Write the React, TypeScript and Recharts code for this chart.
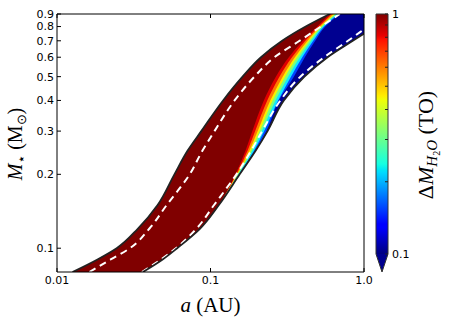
import React from "react"
import { ComposedChart, Area, Line, XAxis, YAxis, ReferenceArea } from "recharts"

// stellar mass grid (M_sun); every curve below is read in AU at these masses
const MASS = [0.08, 0.09, 0.1, 0.12, 0.15, 0.2, 0.25, 0.3, 0.4, 0.5, 0.6, 0.7, 0.8, 0.9]

// black edges of the shaded zone
const HZ_INNER = [0.01262, 0.01835, 0.02447, 0.03357, 0.04524, 0.0582, 0.071, 0.0871, 0.1208, 0.1618, 0.2133, 0.2929, 0.4167, 0.5989]
const HZ_OUTER = [0.03629, 0.04878, 0.06063, 0.0853, 0.1134, 0.1549, 0.1972, 0.2353, 0.3005, 0.4093, 0.5794, 0.8455, 1.176, 1.563]

// white dashed curves
const DASH_INNER = [0.01628, 0.02237, 0.02987, 0.0399, 0.05186, 0.0732, 0.0887, 0.1062, 0.1435, 0.1934, 0.2611, 0.3803, 0.5235, 0.6958]
const DASH_OUTER = [0.03575, 0.04754, 0.05953, 0.0809, 0.1055, 0.1475, 0.1841, 0.2171, 0.2852, 0.3848, 0.5507, 0.7866, 1.0585, 1.378]

// where each colour of the water-loss map starts (null = not reached, zone stays dark red)
const EDGE_RED = [null, null, null, null, null, 0.1453, 0.1692, 0.1874, 0.2227, 0.2666, 0.3238, 0.3996, 0.4966, 0.5989]
const EDGE_ORANGE = [null, null, null, null, null, 0.1472, 0.1745, 0.1955, 0.2343, 0.2813, 0.3398, 0.4148, 0.5086, 0.617]
const EDGE_YELLOW = [null, null, null, null, null, 0.1489, 0.1794, 0.2031, 0.2452, 0.2954, 0.3548, 0.429, 0.5197, 0.6339]
const EDGE_GREEN = [null, null, null, null, null, 0.1503, 0.1832, 0.2091, 0.2541, 0.3067, 0.3669, 0.4403, 0.5284, 0.6475]
const EDGE_CYAN = [null, null, null, null, null, 0.1518, 0.1878, 0.2163, 0.2647, 0.3202, 0.3813, 0.4535, 0.5387, 0.6632]
const EDGE_BLUE = [null, null, null, null, null, 0.1533, 0.1924, 0.2238, 0.2758, 0.3343, 0.3962, 0.4671, 0.5491, 0.6792]
const EDGE_NAVY = [null, null, null, null, null, 0.1549, 0.1972, 0.2315, 0.2788, 0.3491, 0.4117, 0.4812, 0.5598, 0.6958]

const X_TICKS = [0.01, 0.1, 1]
const Y_TICKS = [0.1, 0.2, 0.3, 0.4, 0.5, 0.6, 0.7, 0.8, 0.9]
const CB_TICKS = [0.1, 0.2, 0.3, 0.4, 0.5, 0.6, 0.7, 0.8, 0.9, 1]
const CB_LABELLED = [0.1, 1]

const LAYERS = [
  { key: "red", color: "#e00000", edge: EDGE_RED },
  { key: "orange", color: "#ff7a00", edge: EDGE_ORANGE },
  { key: "yellow", color: "#f8f000", edge: EDGE_YELLOW },
  { key: "green", color: "#7cff7a", edge: EDGE_GREEN },
  { key: "cyan", color: "#12e6ff", edge: EDGE_CYAN },
  { key: "blue", color: "#0046ff", edge: EDGE_BLUE },
  { key: "navy", color: "#000090", edge: EDGE_NAVY },
]

const JET = [
  [0, "#000080"], [0.11, "#0000ff"], [0.125, "#0000ff"], [0.34, "#00dbff"], [0.35, "#00e5f7"],
  [0.375, "#14ffe2"], [0.5, "#7bff7b"], [0.64, "#eeff08"], [0.66, "#ffec00"], [0.89, "#ff1300"],
  [0.91, "#e80000"], [1, "#800000"],
] as const

const rows = MASS.map((m, i) => {
  const row: Record<string, any> = {
    m,
    zone: [HZ_INNER[i], HZ_OUTER[i]],
    inner: HZ_INNER[i],
    outer: HZ_OUTER[i],
    dashIn: DASH_INNER[i],
    dashOut: DASH_OUTER[i],
  }
  LAYERS.forEach((l) => {
    row[l.key] = [l.edge[i] ?? HZ_OUTER[i], HZ_OUTER[i]]
  })
  return row
})

const TICK = { fontSize: 11, fill: "#000", fontFamily: "DejaVu Sans" }
const SERIF = "Liberation Serif"

const fmtX = (v: number) => (v === 1 ? "1.0" : String(v))
const blank = () => ""

function XLabel({ viewBox }: any) {
  const cx = viewBox.x + viewBox.width / 2
  return (
    <text x={cx} y={viewBox.y + 40} textAnchor="middle" fontFamily={SERIF} fontSize={21} fill="#000">
      <tspan fontStyle="italic">a</tspan>
      <tspan> (AU)</tspan>
    </text>
  )
}

function YLabel({ viewBox }: any) {
  const x = viewBox.x + viewBox.width - 35
  const cy = viewBox.y + viewBox.height / 2 + 1
  return (
    <text x={x} y={cy} transform={`rotate(-90 ${x} ${cy})`} textAnchor="middle" fontFamily={SERIF} fontSize={20} fill="#000">
      <tspan fontStyle="italic">M</tspan>
      <tspan dy={4} fontSize={14} fontFamily="DejaVu Sans">⋆</tspan>
      <tspan dy={-4}> (M</tspan>
      <tspan dy={4} fontSize={13}>⊙</tspan>
      <tspan dy={-4}>)</tspan>
    </text>
  )
}

function CbLabel({ viewBox }: any) {
  const x = viewBox.x + 45
  const cy = viewBox.y + viewBox.height / 2 + 11
  return (
    <text x={x} y={cy} transform={`rotate(-90 ${x} ${cy})`} textAnchor="middle" fontFamily={SERIF} fontSize={22} fill="#000">
      <tspan>Δ</tspan>
      <tspan fontStyle="italic">M</tspan>
      <tspan dy={4} fontSize={15} fontStyle="italic">H</tspan>
      <tspan dy={3} fontSize={10}>2</tspan>
      <tspan dy={-3} fontSize={15} fontStyle="italic">O</tspan>
      <tspan dy={-4}> (TO)</tspan>
    </text>
  )
}

function ColorbarShape({ x, y, width, height }: any) {
  const tip = width * 1.5
  const bottom = y + height
  return (
    <g>
      <rect x={x} y={y} width={width} height={height} fill="url(#jet)" />
      <polygon points={`${x},${bottom} ${x + width},${bottom} ${x + width / 2},${bottom + tip}`} fill="#000090" />
      <path
        d={`M${x},${y} H${x + width} V${bottom} L${x + width / 2},${bottom + tip} L${x},${bottom} Z`}
        fill="none"
        stroke="#333"
        strokeWidth={1}
      />
    </g>
  )
}

const layer: React.CSSProperties = { position: "absolute", left: 0, top: 0 }

export default function App() {
  return (
    <div style={{ position: "absolute", left: 0, top: 0, width: 450, height: 326, background: "#fff" }}>
      <div style={layer}>
        <ComposedChart
          layout="vertical"
          width={450}
          height={326}
          data={rows}
          margin={{ top: 13, right: 85, bottom: 24, left: 17 }}
        >
          <XAxis
            type="number"
            scale="log"
            domain={[0.01, 1]}
            allowDataOverflow
            ticks={X_TICKS}
            interval={0}
            tickFormatter={fmtX}
            height={30}
            tickSize={-4}
            tickMargin={8}
            tick={TICK}
            axisLine={{ stroke: "#000" }}
            tickLine={{ stroke: "#000" }}
            label={{ content: XLabel }}
          />
          <XAxis
            xAxisId="top"
            orientation="top"
            type="number"
            scale="log"
            domain={[0.01, 1]}
            allowDataOverflow
            ticks={X_TICKS}
            interval={0}
            tickFormatter={blank}
            height={1}
            tickSize={-4}
            axisLine={{ stroke: "#000" }}
            tickLine={{ stroke: "#000" }}
          />
          <YAxis
            type="number"
            dataKey="m"
            scale="log"
            reversed
            domain={[0.08, 0.9]}
            allowDataOverflow
            ticks={Y_TICKS}
            interval={0}
            width={40}
            tickSize={-4}
            tickMargin={7}
            tick={TICK}
            axisLine={{ stroke: "#000" }}
            tickLine={{ stroke: "#000" }}
            label={{ content: YLabel }}
          />
          <YAxis
            yAxisId="right"
            orientation="right"
            type="number"
            scale="log"
            reversed
            domain={[0.08, 0.9]}
            allowDataOverflow
            ticks={Y_TICKS}
            interval={0}
            tickFormatter={blank}
            width={1}
            tickSize={-4}
            axisLine={{ stroke: "#000" }}
            tickLine={{ stroke: "#000" }}
          />
          <Area dataKey="zone" type="monotone" fill="#800000" fillOpacity={1} stroke="none" isAnimationActive={false} />
          {LAYERS.map((l) => (
            <Area
              key={l.key}
              dataKey={l.key}
              type="monotone"
              fill={l.color}
              fillOpacity={1}
              stroke="none"
              isAnimationActive={false}
            />
          ))}
          <Line dataKey="dashIn" type="monotone" stroke="#fff" strokeWidth={2} strokeDasharray="7 5" dot={false} isAnimationActive={false} />
          <Line dataKey="dashOut" type="monotone" stroke="#fff" strokeWidth={2} strokeDasharray="7 5" dot={false} isAnimationActive={false} />
          <Line dataKey="inner" type="monotone" stroke="#222" strokeWidth={1.8} dot={false} isAnimationActive={false} />
          <Line dataKey="outer" type="monotone" stroke="#222" strokeWidth={1.8} dot={false} isAnimationActive={false} />
        </ComposedChart>
      </div>
      <div style={layer}>
        <ComposedChart
          width={450}
          height={326}
          data={[{ x: 0 }, { x: 1 }]}
          margin={{ top: 14, right: 22, bottom: 72, left: 376 }}
        >
          <defs>
            <linearGradient id="jet" x1="0" y1="1" x2="0" y2="0">
              {JET.map(([o, c]) => (
                <stop key={o} offset={o} stopColor={c} />
              ))}
            </linearGradient>
          </defs>
          <XAxis type="number" dataKey="x" domain={[0, 1]} hide />
          <YAxis
            orientation="right"
            type="number"
            scale="log"
            domain={[0.1, 1]}
            allowDataOverflow
            ticks={CB_TICKS}
            interval={0}
            tickFormatter={(v: number) => (CB_LABELLED.includes(v) ? String(v) : "")}
            width={40}
            tickSize={-3}
            tickMargin={7}
            tick={TICK}
            axisLine={false}
            tickLine={{ stroke: "#222" }}
            label={{ content: CbLabel }}
          />
          <ReferenceArea x1={0} x2={1} y1={0.1} y2={1} shape={ColorbarShape} ifOverflow="visible" />
        </ComposedChart>
      </div>
    </div>
  )
}
